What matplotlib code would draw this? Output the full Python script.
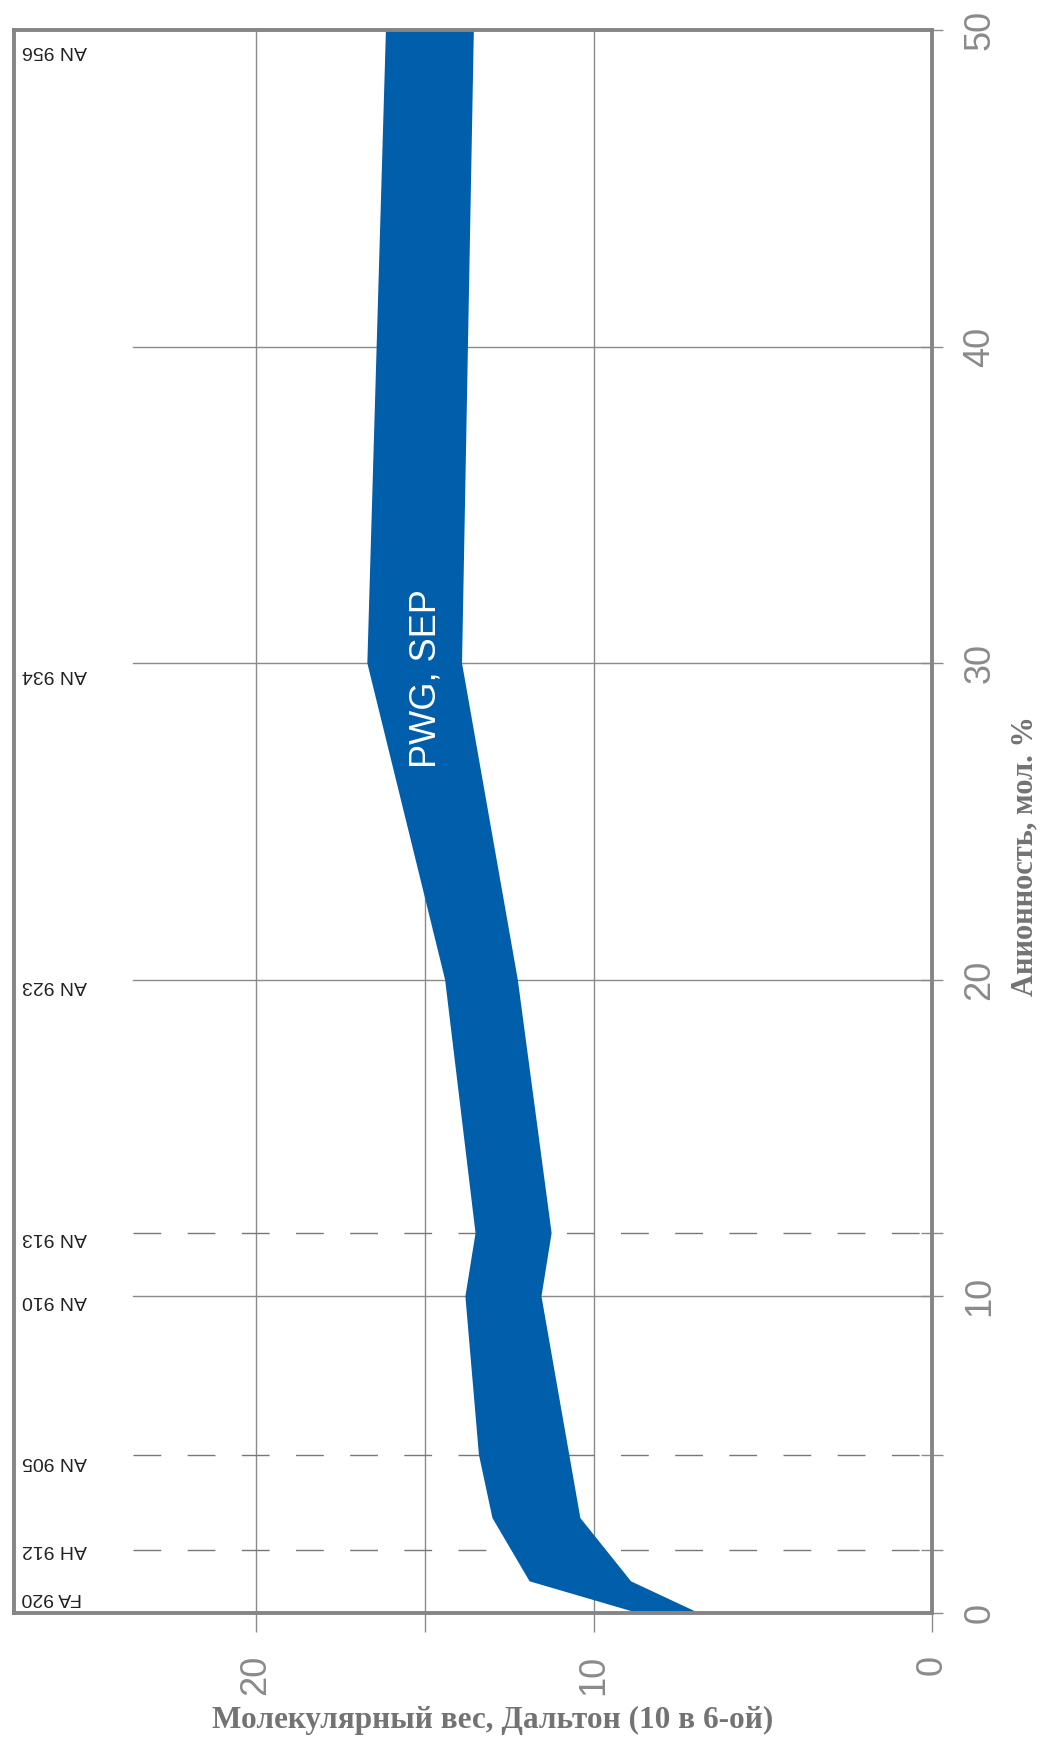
import matplotlib
matplotlib.use('Agg')
import matplotlib.pyplot as plt
import matplotlib.transforms as mtransforms
import numpy as np

# ---- data ----
anion_upper = [0, 1, 3, 5, 10, 12, 20, 30, 50]
mw_upper = [8.7, 11.9, 13.0, 13.4, 13.8, 13.5, 14.4, 16.7, 16.15]
anion_lower = [0, 1, 3, 10, 12, 20, 30, 50]
mw_lower = [6.9, 8.9, 10.4, 11.55, 11.25, 12.25, 13.9, 13.55]

grade_names = ["FA 920", "AH 912", "AN 905", "AN 910", "AN 913", "AN 923", "AN 934", "AN 956"]
grade_anion = [0, 2, 5, 10, 12, 20, 30, 50]

solid_anion_lines = [10, 20, 30, 40]
dashed_anion_lines = [2, 5, 12]
anion_ticks = [0, 10, 20, 30, 40, 50]
mw_ticks = [0, 10, 20]
mw_minor_ticks = [15]
mw_grid = [10, 15, 20]

band_label = "PWG, SEP"
x_label = "Молекулярный вес, Дальтон (10 в 6-ой)"
y_label = "Анионность, мол. %"

# ---- style ----
blue = '#005EAA'
grid_c = '#8a8a8a'
frame_c = '#858585'
tick_c = '#8a8a8a'
title_c = '#737373'
label_offsets_pt = [11, 0, -5, -3, -3, -4, -8, -15]

fig = plt.figure(figsize=(10.44, 17.37), dpi=100)
ax = fig.add_axes([14 / 1044, 1 - 1613 / 1737, 918 / 1044, 1583 / 1737])
ax.set_xlim(27.15, 0)
ax.set_ylim(0, 50)

for v in mw_grid:
    ax.axvline(v, color=grid_c, lw=1.0, zorder=1)
for v in solid_anion_lines:
    ax.axhline(v, xmin=0.13, xmax=1, color=grid_c, lw=1.0, zorder=1)
for v in dashed_anion_lines:
    ax.axhline(v, xmin=0.13, xmax=1, color='#777777', lw=1.0,
               linestyle=(0, (20, 19)), zorder=1)

poly_x = np.r_[mw_upper, mw_lower[::-1]]
poly_y = np.r_[anion_upper, anion_lower[::-1]]
ax.fill(poly_x, poly_y, color=blue, zorder=2, lw=0)

ax.text(14.97, 29.5, band_label, rotation=90, color='white', fontsize=26,
        ha='center', va='center', family='Liberation Sans', zorder=3)

trans_blend = mtransforms.blended_transform_factory(ax.transAxes, ax.transData)
for name, a, off in zip(grade_names, grade_anion, label_offsets_pt):
    tr = mtransforms.offset_copy(trans_blend, fig=fig, x=0, y=off, units='points')
    ax.text(0.0087, a, name, transform=tr, rotation=180, ha='left', va='center',
            fontsize=14, color='#222222', family='Liberation Sans', zorder=3)

for s in ax.spines.values():
    s.set_color(frame_c)
    s.set_linewidth(2.8)
    s.set_zorder(4)

ax.yaxis.tick_right()
ax.set_yticks(anion_ticks)
ax.set_yticks(dashed_anion_lines, minor=True)
ax.set_yticklabels([str(t) for t in anion_ticks])
ax.tick_params(axis='y', which='both', direction='inout', length=16, width=1,
               color=tick_c, labelsize=26, labelcolor=tick_c, pad=14,
               left=False, right=True, labelleft=False, labelright=True)
for lab in ax.get_yticklabels():
    lab.set_rotation(90)
    lab.set_va('center')
    lab.set_family('Liberation Sans')

ax.set_xticks(mw_ticks)
ax.set_xticks(mw_minor_ticks, minor=True)
ax.set_xticklabels([str(t) for t in mw_ticks])
ax.tick_params(axis='x', which='both', direction='out', length=14, width=1,
               color=tick_c, labelsize=26, labelcolor=tick_c, pad=16)
for lab in ax.get_xticklabels():
    lab.set_rotation(90)
    lab.set_ha('center')
    lab.set_va('top')
    lab.set_family('Liberation Sans')

fig.text(1025 / 1044, 1 - 856 / 1737, y_label, rotation=90, ha='center', va='center',
         fontsize=22, fontweight='bold', family='Liberation Serif', color=title_c)
fig.text(493 / 1044, 1 - 1720 / 1737, x_label, ha='center', va='center',
         fontsize=22.5, fontweight='bold', family='Liberation Serif', color=title_c)

fig.savefig('out.png', dpi=100, facecolor='white')
